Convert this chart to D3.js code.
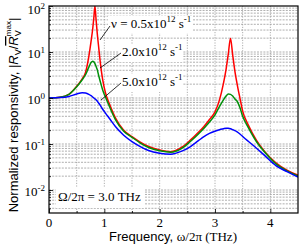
<!DOCTYPE html>
<html>
<head>
<meta charset="utf-8">
<script src="https://cdn.jsdelivr.net/npm/d3@7"></script>
<style>
  body { margin: 0; background: #fff; }
  svg { display: block; }
  .serif { font-family: "Liberation Serif", "Times New Roman", serif; }
  .sans { font-family: "Liberation Sans", Arial, sans-serif; }
</style>
</head>
<body>
<div id="chart"></div>
<script>
// frequency grid (THz), shared by the three curves
var freq = [0, 0.2, 0.36, 0.5, 0.6, 0.66, 0.72, 0.76, 0.79, 0.81, 0.83, 0.85, 0.87, 0.9, 0.93, 0.97,
  1.02, 1.1, 1.2, 1.35, 1.5, 1.65, 1.8, 2.0, 2.2, 2.4, 2.55, 2.7, 2.8, 2.9, 3.0, 3.08, 3.15, 3.2,
  3.24, 3.28, 3.32, 3.36, 3.4, 3.45, 3.5, 3.6, 3.75, 3.9, 4.1, 4.3, 4.5];

// nu = 0.5e12 s^-1
var resp05 = [1.0, 1.04, 1.2, 1.8, 2.6, 3.6, 8, 17, 32, 55, 100, 52, 27, 12, 5.5, 2.5,
  1.3, 0.7, 0.37, 0.2, 0.145, 0.11, 0.088, 0.074, 0.068, 0.085, 0.12, 0.18, 0.24, 0.34, 0.5, 0.9, 2.0, 4.2,
  9, 20, 8.5, 3.8, 2.0, 1.0, 0.52, 0.26, 0.12, 0.068, 0.039, 0.027, 0.021];

// nu = 2.0e12 s^-1
var resp20 = [1.0, 1.04, 1.2, 1.75, 2.5, 3.2, 4.7, 5.9, 6.3, 6.1, 5.6, 4.9, 4.2, 3.0, 2.2, 1.5,
  1.05, 0.62, 0.34, 0.19, 0.14, 0.105, 0.084, 0.071, 0.066, 0.08, 0.112, 0.165, 0.22, 0.3, 0.43, 0.65, 0.9, 1.1,
  1.22, 1.2, 1.1, 0.95, 0.85, 0.62, 0.4, 0.23, 0.112, 0.066, 0.037, 0.026, 0.02];

// nu = 5.0e12 s^-1
var resp50 = [1.0, 1.02, 1.08, 1.22, 1.3, 1.28, 1.2, 1.12, 1.05, 1.0, 0.96, 0.92, 0.86, 0.77, 0.68, 0.57,
  0.47, 0.35, 0.24, 0.155, 0.113, 0.088, 0.072, 0.063, 0.06, 0.07, 0.087, 0.118, 0.145, 0.17, 0.19, 0.205, 0.214, 0.22,
  0.22, 0.215, 0.205, 0.195, 0.183, 0.165, 0.146, 0.115, 0.081, 0.056, 0.034, 0.025, 0.019];

var xTicks = [0, 1, 2, 3, 4];
var yTicks = [2, 1, 0, -1, -2];   // exponents of 10

var svgWidth = 300;
var svgHeight = 246;
var margin = { top: 6, right: 2, bottom: 33, left: 49 };
var width = svgWidth - margin.left - margin.right;
var height = svgHeight - margin.top - margin.bottom;

var svg = d3.select("#chart").append("svg")
  .attr("width", svgWidth)
  .attr("height", svgHeight);

var chartGroup = svg.append("g")
  .attr("transform", `translate(${margin.left}, ${margin.top})`);

var xScale = d3.scaleLinear().domain([0, 4.5]).range([0, width]);
var yScale = d3.scaleLog().domain([Math.pow(10, -2.5), 100]).range([height, 0]);

// grid: verticals every 0.5, horizontals at every log step
var gridX = d3.range(0.5, 4.5, 0.5);
var gridY = [];
for (var e = -3; e < 2; e++) {
  for (var m = 1; m < 10; m++) {
    var v = m * Math.pow(10, e);
    if (v > yScale.domain()[0] && v < 100) gridY.push(v);
  }
}

chartGroup.selectAll(".gx").data(gridX).enter().append("line")
  .attr("x1", d => xScale(d)).attr("x2", d => xScale(d))
  .attr("y1", 0).attr("y2", height)
  .attr("stroke", "#9a9a9a").attr("stroke-width", 0.8)
  .attr("stroke-dasharray", "1.2,1.4");

chartGroup.selectAll(".gy").data(gridY).enter().append("line")
  .attr("x1", 0).attr("x2", width)
  .attr("y1", d => yScale(d)).attr("y2", d => yScale(d))
  .attr("stroke", "#9a9a9a").attr("stroke-width", 0.8)
  .attr("stroke-dasharray", "2,1.2");

// white boxes behind the annotations
var boxes = [[59, 10, 85, 17], [70, 38, 64, 18], [70, 68, 64, 18], [7, 182, 89, 20]];
chartGroup.selectAll(".box").data(boxes).enter().append("rect")
  .attr("x", d => d[0]).attr("y", d => d[1])
  .attr("width", d => d[2]).attr("height", d => d[3])
  .attr("fill", "#fff");

// curves
chartGroup.append("clipPath").attr("id", "clip")
  .append("rect").attr("width", width).attr("height", height);

var series = [
  { values: resp05, color: "#ff0000" },
  { values: resp20, color: "#00900a" },
  { values: resp50, color: "#0000ff" }
];

var line = d3.line()
  .x(d => xScale(d[0]))
  .y(d => yScale(d[1]))
  .curve(d3.curveMonotoneX);

chartGroup.selectAll(".curve").data(series).enter().append("path")
  .attr("clip-path", "url(#clip)")
  .attr("fill", "none")
  .attr("stroke", d => d.color)
  .attr("stroke-width", 1.5)
  .attr("d", d => line(freq.map((f, i) => [f, d.values[i]])));

// axes, ticks pointing inward
var bottomAxis = d3.axisBottom(xScale).tickValues(xTicks).tickSize(-4).tickFormat("");
var minorX = d3.axisBottom(xScale).tickValues(d3.range(0.5, 4.5, 1)).tickSize(-2).tickFormat("");
var leftAxis = d3.axisLeft(yScale).tickValues(yTicks.map(p => Math.pow(10, p))).tickSize(-4).tickFormat("");
var minorY = d3.axisLeft(yScale).tickValues(gridY).tickSize(-2).tickFormat("");

[bottomAxis, minorX].forEach(function(ax) {
  chartGroup.append("g").attr("transform", `translate(0, ${height})`).call(ax);
});
[leftAxis, minorY].forEach(function(ax) {
  chartGroup.append("g").call(ax);
});
chartGroup.selectAll(".domain").remove();
chartGroup.selectAll(".tick line").attr("stroke", "#000").attr("stroke-width", 0.8);

chartGroup.append("rect")
  .attr("width", width).attr("height", height)
  .attr("fill", "none").attr("stroke", "#000").attr("stroke-width", 1.2);

// tick labels
chartGroup.selectAll(".xl").data(xTicks).enter().append("text")
  .attr("class", "serif")
  .attr("x", d => xScale(d)).attr("y", height + 14)
  .attr("text-anchor", "middle").attr("font-size", 13)
  .text(d => d);

var yl = chartGroup.selectAll(".yl").data(yTicks).enter().append("text")
  .attr("class", "serif")
  .attr("x", -4).attr("y", d => Math.max(yScale(Math.pow(10, d)) + 6, 8))
  .attr("text-anchor", "end").attr("font-size", 13);
yl.append("tspan").text("10");
yl.append("tspan").attr("font-size", 9).attr("dy", -5.5).text(d => d < 0 ? "-" + (-d) : d);

// annotations
function powerLabel(x, y, lead) {
  var t = chartGroup.append("text").attr("class", "serif")
    .attr("x", x).attr("y", y).attr("font-size", 13);
  t.append("tspan").text(lead + "x10");
  t.append("tspan").attr("font-size", 9).attr("dy", -6).text("12");
  t.append("tspan").attr("dy", 6).text(" s");
  t.append("tspan").attr("font-size", 9).attr("dy", -6).text("-1");
}
powerLabel(62, 22, "\u03bd = 0.5");
powerLabel(73, 50, "2.0");
powerLabel(73, 80, "5.0");

var leaders = [[51, 34, 61, 20], [51, 62, 72, 47], [52, 94, 72, 77]];
chartGroup.selectAll(".lead").data(leaders).enter().append("line")
  .attr("x1", d => d[0]).attr("y1", d => d[1])
  .attr("x2", d => d[2]).attr("y2", d => d[3])
  .attr("stroke", "#000").attr("stroke-width", 0.8);

chartGroup.append("text").attr("class", "serif")
  .attr("x", 9).attr("y", 195).attr("font-size", 13)
  .text("\u03a9/2\u03c0 = 3.0 THz");

// axis titles
var xt = svg.append("text").attr("x", 173).attr("y", 241)
  .attr("text-anchor", "middle").attr("font-size", 13);
xt.append("tspan").attr("class", "sans").text("Frequency, ");
xt.append("tspan").attr("class", "serif").text("\u03c9/2\u03c0 (THz)");

var yt = svg.append("text").attr("class", "sans")
  .attr("transform", "translate(18, 115) rotate(-90)")
  .attr("text-anchor", "middle").attr("font-size", 13);
yt.append("tspan").text("Normalized responsivity, |");
yt.append("tspan").attr("font-style", "italic").text("R");
yt.append("tspan").attr("font-size", 9).attr("dy", 3).text("V");
yt.append("tspan").attr("dy", -3).text("/");
yt.append("tspan").attr("font-style", "italic").attr("text-decoration", "overline").text("R");
yt.append("tspan").attr("font-size", 9).attr("dy", 3).text("V");
yt.append("tspan").attr("font-size", 8).attr("dy", -10).attr("dx", -6).text("max");
yt.append("tspan").attr("dy", 7).text("|");
</script>
</body>
</html>
